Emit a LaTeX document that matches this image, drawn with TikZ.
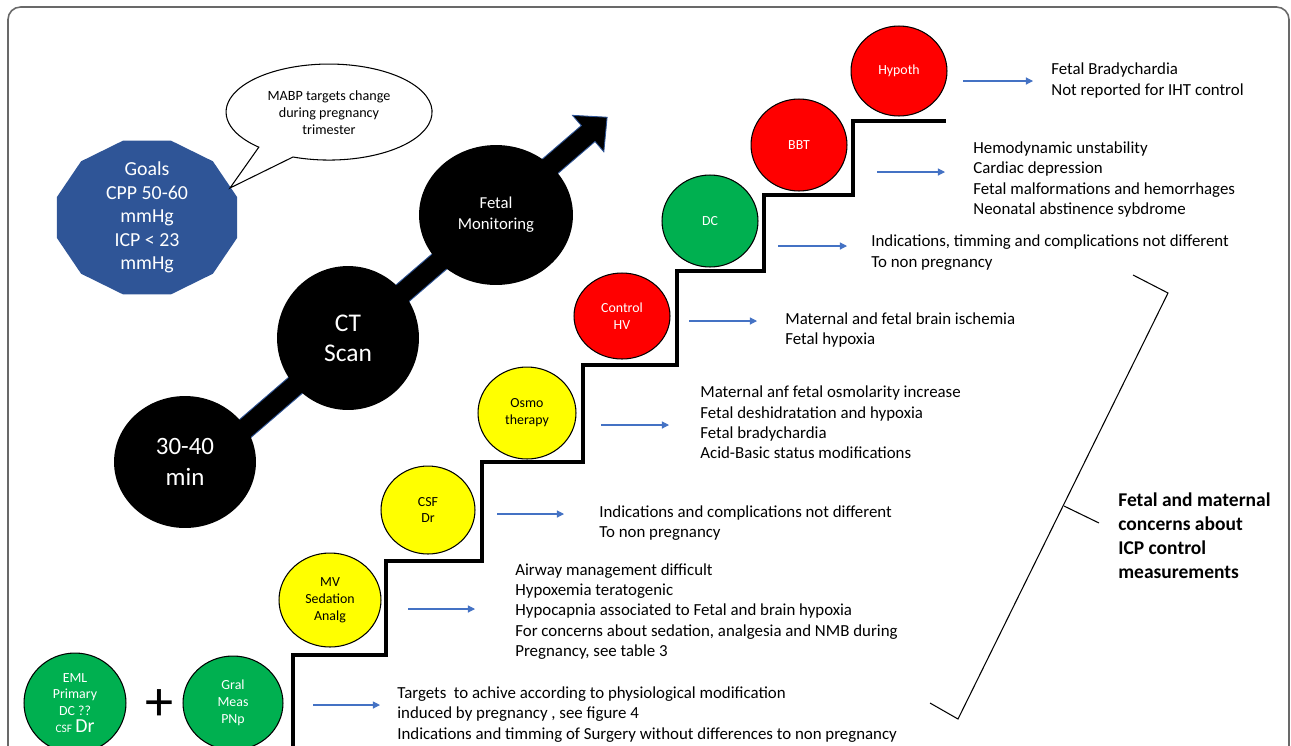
\documentclass[tikz,border=0pt]{standalone}
\usepackage{fontspec}
\setmainfont{Carlito}
\usetikzlibrary{shapes.geometric,arrows.meta}

\definecolor{goalblue}{RGB}{47,85,151}
\definecolor{hintblue}{RGB}{68,114,196}
\definecolor{stepred}{RGB}{255,0,0}
\definecolor{stepgreen}{RGB}{0,176,80}
\definecolor{stepyellow}{RGB}{255,255,0}
\definecolor{framegray}{RGB}{105,105,105}

\tikzset{
  rxy/.style 2 args={minimum width=#1*0.04cm, minimum height=#2*0.04cm},
  ball/.style={ellipse, draw=black, line width=0.6pt, inner sep=0pt, align=center,
    font=\fontsize{7.9pt}{9.6pt}\selectfont},
  redball/.style={ball, fill=stepred, text=white},
  greenball/.style={ball, fill=stepgreen, text=white},
  yellowball/.style={ball, fill=stepyellow, text=black},
  bigball/.style={ellipse, fill=black, inner sep=0pt, align=center, text=white},
  hint/.style={hintblue, line width=0.6pt, -{Triangle[length=4pt,width=4pt]}},
  note/.style={anchor=west, align=left, inner sep=0pt,
    font=\fontsize{9.6pt}{11.6pt}\selectfont},
}

\begin{document}
\begin{tikzpicture}[x=0.02cm, y=-0.02cm]
  \useasboundingbox (0,0) rectangle (1291,745);
  \clip (0,0) rectangle (1291,745);
  \draw[framegray, line width=0.9pt, rounded corners=0.25cm] (8,7) rectangle (1289,790);

  % goals and callout
  \fill[goalblue] plot[samples at={15,45,...,345}, variable=\a] ({147+93.2*cos(\a)},{217.5+79.5*sin(\a)}) -- cycle;
  \node[text=white, align=center, font=\fontsize{11.3pt}{13.4pt}\selectfont] (goals) at (147,217.5)
    {Goals\\CPP 50-60\\mmHg\\ICP < 23\\mmHg};
  \draw[line width=0.6pt, fill=white] (293,157) arc[start angle=110.5, end angle=-227, x radius=103, y radius=48]
    -- (230,188) -- cycle;
  \node[align=center, font=\fontsize{8.05pt}{9.64pt}\selectfont] (mabp) at (329,112.5)
    {MABP targets change\\during pregnancy\\trimester};

  % time arrow
  \begin{scope}[shift={(190,476)}, rotate=40.7]
    \filldraw[fill=black, draw=goalblue, line width=0.5pt] (0,-10.5) -- (525.2,-10.5) -- (525.2,-24)
      -- (550.2,0) -- (525.2,24) -- (525.2,10.5) -- (0,10.5) -- cycle;
  \end{scope}
  \node[bigball, rxy={71}{66}, font=\fontsize{14.2pt}{17.6pt}\selectfont] (t3040) at (185,462) {30-40\\min};
  \node[bigball, rxy={71}{72}, font=\fontsize{14.5pt}{17pt}\selectfont] (ctscan) at (348,338) {CT\\Scan};
  \node[bigball, rxy={77}{70}, font=\fontsize{9.5pt}{11.9pt}\selectfont] (fetalmon) at (496,215) {Fetal\\Monitoring};

  % staircase
  \draw[line width=2.3pt] (293,760) |- (386,655) |- (482,561) |- (583,462) |- (677,365)
    |- (764,271) |- (853,195) |- (946,121);

  \node[greenball, rxy={51}{50}] (eml) at (75,703)
    {EML\\Primary\\DC ??\\{\fontsize{6.5pt}{9.6pt}\selectfont CSF} {\fontsize{11.3pt}{9.6pt}\selectfont Dr}};
  \node[font=\fontsize{32pt}{32pt}\selectfont] (plus) at (159,705) {+};
  \node[greenball, rxy={50}{47}] (gral) at (233,703) {Gral\\Meas\\PNp};
  \node[yellowball, rxy={51}{47}] (mv) at (330,600) {MV\\Sedation\\Analg};
  \node[yellowball, rxy={47}{44}] (csf) at (428,510) {CSF\\Dr};
  \node[yellowball, rxy={49}{46}] (osmo) at (527,413) {Osmo\\therapy};
  \node[redball, rxy={48}{43}] (hv) at (622,316) {Control\\HV};
  \node[greenball, rxy={48}{46}] (dc) at (710,221) {DC};
  \node[redball, rxy={48}{46}] (bbt) at (799,145) {BBT};
  \node[redball, rxy={48}{45}] (hypoth) at (899,71) {Hypoth};

  \foreach \n/\xa/\xb/\y in {hypoth/963/1033/81, bbt/877/945/172, dc/778/847/246, hv/689/757/321,
      osmo/601/669/425, csf/497/564/514, mv/408/475/609, gral/313/380/705} {
    \coordinate (\n-from) at (\xa,\y);
    \coordinate (\n-to) at (\xb,\y);
    \draw[hint] (\n-from) -- (\n-to);
  }

  \node[note] (hypothtxt) at (1051,80.5) {Fetal Bradychardia\\Not reported for IHT control};
  \node[note] (bbttxt) at (973,179.5) {Hemodynamic unstability\\Cardiac depression\\Fetal malformations and hemorrhages\\Neonatal abstinence sybdrome};
  \node[note] (dctxt) at (871,252.5) {Indications, timming and complications not different\\To non pregnancy};
  \node[note] (hvtxt) at (785,330) {Maternal and fetal brain ischemia\\Fetal hypoxia};
  \node[note] (osmotxt) at (700,422.5) {Maternal anf fetal osmolarity increase\\Fetal deshidratation and hypoxia\\Fetal bradychardia\\Acid-Basic status modifications};
  \node[note] (csftxt) at (599,523) {Indications and complications not different\\To non pregnancy};
  \node[note] (mvtxt) at (515,611.5) {Airway management difficult\\Hypoxemia teratogenic\\Hypocapnia associated to Fetal and brain hypoxia\\For concerns about sedation, analgesia and NMB during\\Pregnancy, see table 3};
  \node[note] (graltxt) at (397,714.5) {Targets\ \ to achive according to physiological modification\\induced by pregnancy , see figure 4\\Indications and timming of Surgery without differences to non pregnancy};

  % bracket
  \draw[line width=0.6pt] (1133,275) -- (1168,293) -- (958,719) -- (930,703);
  \draw[line width=0.6pt] (1064,506) -- (1099,523);
  \node[anchor=west, align=left, inner sep=0pt, font=\bfseries\fontsize{11.1pt}{13.6pt}\selectfont] (concerns) at (1118,535.5)
    {Fetal and maternal\\concerns about\\ICP control\\measurements};
\end{tikzpicture}
\end{document}
